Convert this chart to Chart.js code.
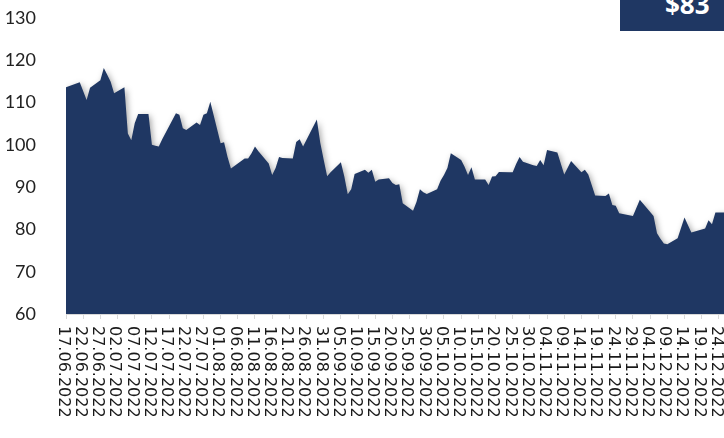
<!DOCTYPE html>
<html>
<head>
<meta charset="utf-8">
<script src="https://cdn.jsdelivr.net/npm/chart.js@4.4.1/dist/chart.umd.min.js"></script>
<style>
    body { margin: 0; overflow: hidden; background: #fff; }
    #wrap { position: relative; width: 724px; height: 438px; }
    #badge {
        position: absolute; left: 620px; top: 0; width: 104px; height: 31px;
        background: #1f3763; overflow: hidden;
    }
    #badge span {
        position: absolute; left: 45px; top: -9px;
        font: bold 26px "Open Sans", sans-serif; line-height: 1; color: #fff;
    }
</style>
</head>
<body>
<div id="wrap">
    <canvas id="priceChart" width="724" height="438"></canvas>
    <div id="badge"><span>$83</span></div>
</div>
<script>
const tradeDates = [
    "17.06.2022", "21.06.2022", "23.06.2022", "24.06.2022", "27.06.2022", "28.06.2022", "29.06.2022", "30.06.2022",
    "01.07.2022", "04.07.2022", "05.07.2022", "06.07.2022", "07.07.2022", "08.07.2022", "11.07.2022", "12.07.2022",
    "13.07.2022", "14.07.2022", "15.07.2022", "19.07.2022", "20.07.2022", "21.07.2022", "22.07.2022", "25.07.2022",
    "26.07.2022", "27.07.2022", "28.07.2022", "29.07.2022", "01.08.2022", "02.08.2022", "03.08.2022", "04.08.2022",
    "05.08.2022", "08.08.2022", "09.08.2022", "10.08.2022", "11.08.2022", "12.08.2022", "15.08.2022", "16.08.2022",
    "17.08.2022", "18.08.2022", "19.08.2022", "22.08.2022", "23.08.2022", "24.08.2022", "25.08.2022", "26.08.2022",
    "29.08.2022", "30.08.2022", "31.08.2022", "01.09.2022", "02.09.2022", "05.09.2022", "06.09.2022", "07.09.2022",
    "08.09.2022", "09.09.2022", "12.09.2022", "13.09.2022", "14.09.2022", "15.09.2022", "16.09.2022", "19.09.2022",
    "20.09.2022", "21.09.2022", "22.09.2022", "23.09.2022", "26.09.2022", "27.09.2022", "28.09.2022", "29.09.2022",
    "30.09.2022", "03.10.2022", "04.10.2022", "05.10.2022", "06.10.2022", "07.10.2022", "10.10.2022", "11.10.2022",
    "12.10.2022", "13.10.2022", "14.10.2022", "17.10.2022", "18.10.2022", "19.10.2022", "20.10.2022", "21.10.2022",
    "24.10.2022", "25.10.2022", "26.10.2022", "27.10.2022", "28.10.2022", "31.10.2022", "01.11.2022", "02.11.2022",
    "03.11.2022", "04.11.2022", "07.11.2022", "09.11.2022", "11.11.2022", "14.11.2022", "15.11.2022", "16.11.2022",
    "18.11.2022", "21.11.2022", "22.11.2022", "23.11.2022", "24.11.2022", "25.11.2022", "29.11.2022", "01.12.2022",
    "05.12.2022", "06.12.2022", "07.12.2022", "08.12.2022", "09.12.2022", "12.12.2022", "14.12.2022", "16.12.2022",
    "20.12.2022", "21.12.2022", "22.12.2022", "23.12.2022", "27.12.2022"
];

const prices = [
    113.6, 114.8, 110.6, 113.5, 115.3, 118.2, 116.6, 114.9,
    112.2, 113.6, 102.7, 101.1, 105.1, 107.3, 107.3, 100.0,
    99.8, 99.6, 101.3, 107.5, 107.1, 103.9, 103.5, 105.3,
    104.7, 107.1, 107.5, 110.2, 100.4, 100.6, 97.2, 94.4,
    95.0, 96.8, 96.8, 98.0, 99.6, 98.5, 95.6, 92.9,
    94.5, 97.1, 96.9, 96.8, 100.7, 101.3, 99.6, 101.2,
    106.0, 100.5, 96.5, 92.6, 93.5, 95.9, 92.5, 88.3,
    89.5, 93.1, 94.1, 93.4, 94.1, 91.3, 91.8, 92.1,
    91.0, 90.5, 90.7, 86.2, 84.4, 86.5, 89.5, 88.8,
    88.4, 89.5, 91.5, 92.9, 94.5, 98.0, 96.4, 94.8,
    92.9, 94.7, 91.8, 91.8, 90.5, 92.5, 92.6, 93.6,
    93.5, 93.5, 95.5, 97.1, 96.0, 95.2, 95.0, 96.4,
    95.2, 98.8, 98.2, 93.0, 96.2, 93.5, 94.1, 93.0,
    88.0, 87.9, 88.5, 85.8, 85.6, 83.8, 83.2, 87.0,
    83.2, 79.1, 77.8, 76.7, 76.5, 77.9, 82.8, 79.3,
    80.2, 82.2, 81.2, 84.0, 84.0
];

const yMin = 60;
const yMax = 130;
const yStep = 10;
const labelEveryDays = 5;

const startDay = Date.UTC(2022, 5, 17);
const DAY = 86400000;

function dayIndex(s) {
    const [d, m, y] = s.split(".").map(Number);
    return (Date.UTC(y, m - 1, d) - startDay) / DAY;
}

function dayLabel(i) {
    const dt = new Date(startDay + i * DAY);
    const dd = String(dt.getUTCDate()).padStart(2, "0");
    const mm = String(dt.getUTCMonth() + 1).padStart(2, "0");
    return dd + "." + mm + "." + dt.getUTCFullYear();
}

const points = tradeDates.map((d, i) => ({ x: dayIndex(d), y: prices[i] }));

// soft drop shadow under the filled area
const areaShadow = {
    id: "areaShadow",
    beforeDatasetsDraw(chart) {
        const ctx = chart.ctx;
        ctx.save();
        ctx.shadowColor = "rgba(0,0,0,0.35)";
        ctx.shadowBlur = 6;
        ctx.shadowOffsetX = 2;
        ctx.shadowOffsetY = 2;
    },
    afterDatasetsDraw(chart) {
        chart.ctx.restore();
    }
};

// dates read top-to-bottom under each tick
const verticalLabels = {
    id: "verticalLabels",
    afterDraw(chart) {
        const xs = chart.scales.x;
        const ctx = chart.ctx;
        ctx.save();
        ctx.font = "16px 'DejaVu Sans'";
        ctx.fillStyle = "#1a1a1a";
        ctx.textAlign = "left";
        ctx.textBaseline = "middle";
        xs.ticks.forEach(t => {
            const px = xs.getPixelForValue(t.value);
            ctx.save();
            ctx.translate(px - 3, xs.top + 12);
            ctx.rotate(Math.PI / 2);
            ctx.fillText(dayLabel(t.value), 0, 0);
            ctx.restore();
        });
        ctx.restore();
    }
};

const ctx = document.getElementById("priceChart").getContext("2d");

new Chart(ctx, {
    type: "line",
    data: {
        datasets: [{
            data: points,
            backgroundColor: "#1f3763",
            borderWidth: 0,
            pointRadius: 0,
            tension: 0,
            fill: "start"
        }]
    },
    options: {
        responsive: false,
        animation: false,
        layout: {
            padding: { top: 18, right: 0, bottom: 0, left: 0 }
        },
        plugins: {
            legend: { display: false },
            tooltip: { enabled: false }
        },
        scales: {
            x: {
                type: "linear",
                min: 0,
                max: 191.5,
                afterBuildTicks: s => {
                    const ticks = [];
                    for (let v = 0; v <= s.max; v += labelEveryDays) ticks.push({ value: v });
                    s.ticks = ticks;
                },
                afterFit: s => {
                    s.height = 124;
                    s.paddingLeft = 0;
                    s.paddingRight = 0;
                },
                ticks: {
                    autoSkip: false,
                    minRotation: 90,
                    maxRotation: 90,
                    color: "rgba(0,0,0,0)",
                    font: { size: 16 },
                    callback: v => dayLabel(v)
                },
                grid: {
                    drawOnChartArea: false,
                    tickLength: 5,
                    color: "#d9d9d9"
                },
                border: { color: "#d9d9d9" }
            },
            y: {
                min: yMin,
                max: yMax,
                afterFit: s => {
                    s.width = 66;
                    s.paddingTop = 0;
                    s.paddingBottom = 0;
                },
                ticks: {
                    stepSize: yStep,
                    padding: 22,
                    color: "#222",
                    font: { family: "Lato", size: 18 }
                },
                grid: { display: false },
                border: { display: false }
            }
        }
    },
    plugins: [areaShadow, verticalLabels]
});
</script>
</body>
</html>
